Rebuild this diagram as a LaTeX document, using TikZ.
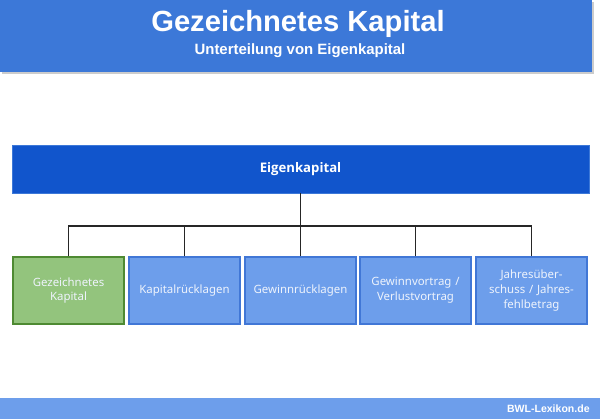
\documentclass[tikz,border=0pt]{standalone}
\usepackage{fontspec}
\setmainfont{Liberation Sans}
\newfontfamily\boxfont{Noto Sans}
\newfontfamily\boxboldfont{Open Sans}
\usepackage{tikz}
\definecolor{headblue}{HTML}{3C78D8}
\definecolor{darkblue}{HTML}{1155CC}
\definecolor{lightblue}{HTML}{6D9EEB}
\definecolor{lightgreen}{HTML}{93C47D}
\definecolor{darkgreen}{HTML}{4E8A32}
\definecolor{boxtext}{HTML}{EEF3FC}
\tikzset{banner/.style={rectangle,fill=headblue,inner sep=0pt,minimum width=11.84cm,minimum height=1.44cm}}
\tikzset{rootbox/.style={rectangle,fill=darkblue,draw=headblue,line width=0.4pt,inner sep=0pt,minimum width=11.54cm,minimum height=0.96cm,text=white,font=\boxboldfont\bfseries\fontsize{7.5}{9}\selectfont}}
\tikzset{part/.style={rectangle,fill=lightblue,draw=darkblue!80,line width=0.8pt,inner sep=0pt,minimum width=2.22cm,minimum height=1.34cm,text width=2.1cm,align=center,text=boxtext,font=\boxfont\fontsize{6.5}{8.5}\selectfont}}
\tikzset{partgreen/.style={part,fill=lightgreen,draw=darkgreen,text=boxtext}}
\tikzset{link/.style={draw=black!85,line width=0.6pt}}
\begin{document}
\begin{tikzpicture}[x=0.02cm,y=-0.02cm]
    \useasboundingbox (0,0) rectangle (600,419);
    % header
    \fill[black!20] (2,2) rectangle (594,74);
    \node[banner] (head) at (296,36) {};
    \node[text=white,font=\bfseries\fontsize{16.6}{19}\selectfont] (title) at (298,24) {Gezeichnetes Kapital};
    \node[text=white,font=\bfseries\fontsize{8.5}{10}\selectfont] (subtitle) at (300,51) {Unterteilung von Eigenkapital};
    % tree
    \node[rootbox] (ek) at (300.5,169) {Eigenkapital};
    \coordinate (bus) at (300.5,226);
    \node[partgreen] (gk) at (68.5,290.5) {Gezeichnetes\\Kapital};
    \node[part] (kr) at (184.5,290.5) {Kapitalrücklagen};
    \node[part] (gr) at (300.5,290.5) {Gewinnrücklagen};
    \node[part] (gv) at (415.5,290.5) {Gewinnvortrag /\\Verlustvortrag};
    \node[part] (js) at (531.5,290.5) {Jahresüber-\\schuss / Jahres-\\fehlbetrag};
    \draw[link] (ek) -- (bus);
    \foreach \n in {gk,kr,gr,gv,js}
        \draw[link] (\n.north) |- (bus);
    % footer
    \fill[lightblue] (0,398) rectangle (600,419);
    \node[anchor=east,inner sep=0pt,text=white,font=\bfseries\fontsize{6}{7}\selectfont] (site) at (590,408.5) {BWL-Lexikon.de};
\end{tikzpicture}
\end{document}
